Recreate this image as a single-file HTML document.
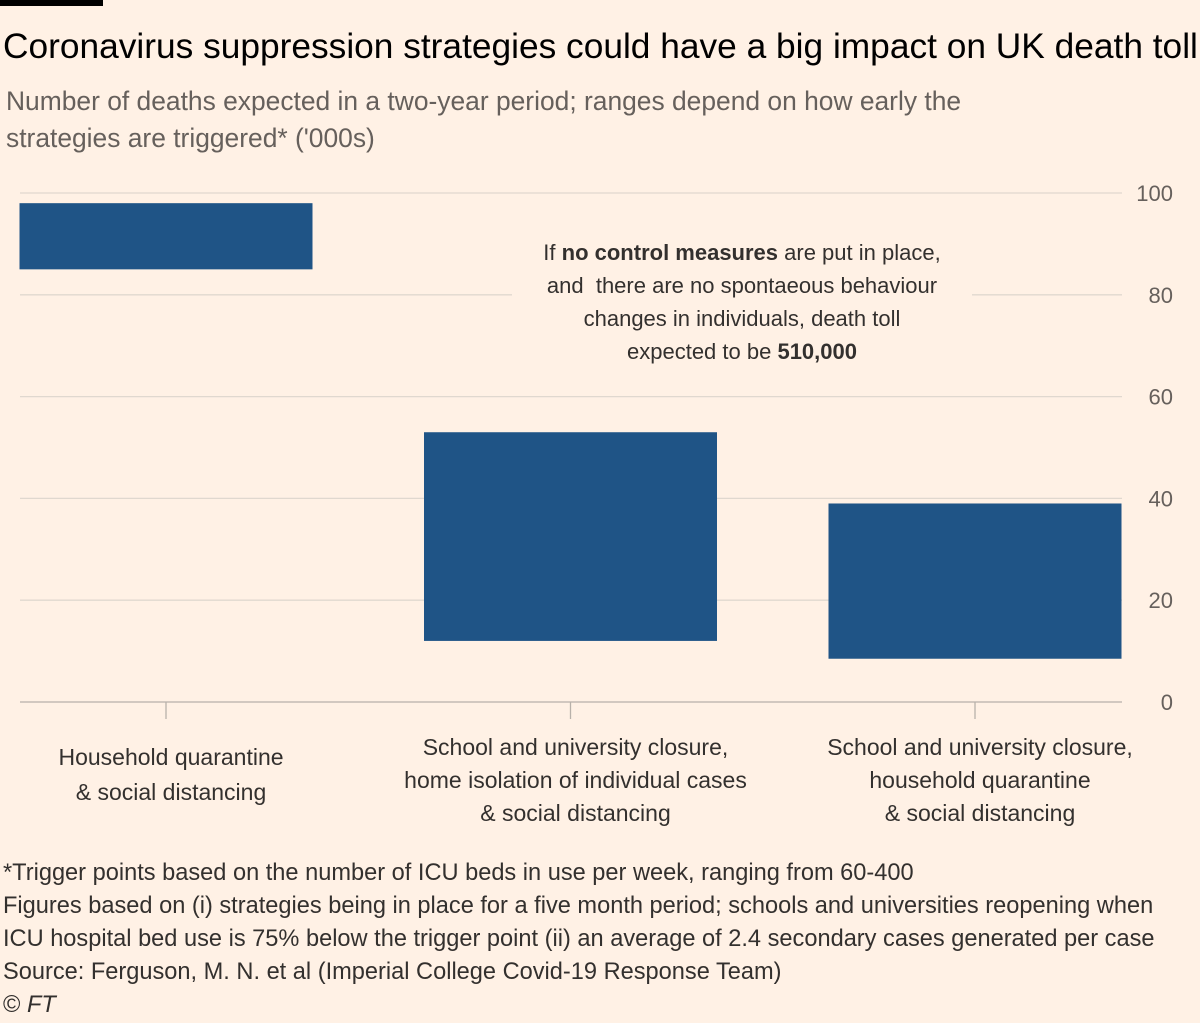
<!DOCTYPE html>
<html><head><meta charset="utf-8">
<style>
body{margin:0;background:#fff1e5;font-family:"Liberation Sans",sans-serif;}
#wrap{position:relative;width:1200px;height:1023px;overflow:hidden;background:#fff1e5;color:#33302e}
.t{position:absolute;white-space:nowrap}
</style></head><body>
<div id="wrap">
<div style="position:absolute;left:0;top:0;width:103px;height:6px;background:#000"></div>
<div class="t" style="left:3px;top:27px;font-size:35.3px;color:#000">Coronavirus suppression strategies could have a big impact on UK death toll</div>
<div class="t" style="left:6px;top:83px;font-size:26.4px;line-height:37px;color:#66605c">Number of deaths expected in a two-year period; ranges depend on how early the<br>strategies are triggered* ('000s)</div>
<svg id="chart" width="1200" height="1023" style="position:absolute;left:0;top:0"></svg>
<div class="t" style="left:512px;top:236px;width:460px;text-align:center;font-size:22px;line-height:33px;color:#33302e;background:#fff1e5">If <b>no control measures</b> are put in place,<br>and&nbsp; there are no spontaeous behaviour<br>changes in individuals, death toll<br>expected to be <b>510,000</b></div>
<div class="t" style="left:3px;top:857px;font-size:23.6px;line-height:33px;color:#33302e">*Trigger points based on the number of ICU beds in use per week, ranging from 60-400<br>Figures based on (i) strategies being in place for a five month period; schools and universities reopening when<br>ICU hospital bed use is 75% below the trigger point (ii) an average of 2.4 secondary cases generated per case<br>Source: Ferguson, M. N. et al (Imperial College Covid-19 Response Team)<br>© <i>FT</i></div>
</div>
<script>
const categories=[["Household quarantine","& social distancing"],["School and university closure,","home isolation of individual cases","& social distancing"],["School and university closure,","household quarantine","& social distancing"]];
const lowValues=[85,12,8.5];
const highValues=[98,53,39];
const yTicks=[0,20,40,60,80,100];
const svg=document.getElementById('chart');
const NS='http://www.w3.org/2000/svg';
const y=v=>702-v*5.09;
const xc=i=>166+i*404.5;
const bw=293;
function mk(t,a){const e=document.createElementNS(NS,t);for(const k in a)e.setAttribute(k,a[k]);svg.appendChild(e);return e;}
yTicks.forEach(v=>{
 const l=mk('line',{x1:20,x2:1122,y1:y(v),y2:y(v),stroke:v===0?'#b8b1aa':'#e0d8cf','stroke-width':1.3});
 
 
 const t=mk('text',{x:1173,y:y(v)+8,'text-anchor':'end','font-size':22,fill:'#66605c','font-family':'Liberation Sans, sans-serif'});
 t.textContent=v;
 
 
});
categories.forEach((c,i)=>{
 const r=mk('rect',{x:xc(i)-bw/2,y:y(highValues[i]),width:bw,height:y(lowValues[i])-y(highValues[i]),fill:'#1f5486'});
 
 
 const tk=mk('line',{x1:xc(i),x2:xc(i),y1:702,y2:719,stroke:'#b8b1aa','stroke-width':1.3});
 
 
 const n=c.length;
 const top=n===2?765:755;
 c.forEach((s,j)=>{
  const t=mk('text',{x:xc(i)+5,y:top+j*(n===2?35:33),'text-anchor':'middle','font-size':23,fill:'#33302e','font-family':'Liberation Sans, sans-serif'});
  t.textContent=s;
  
  
 });
});
</script>
</body></html>
